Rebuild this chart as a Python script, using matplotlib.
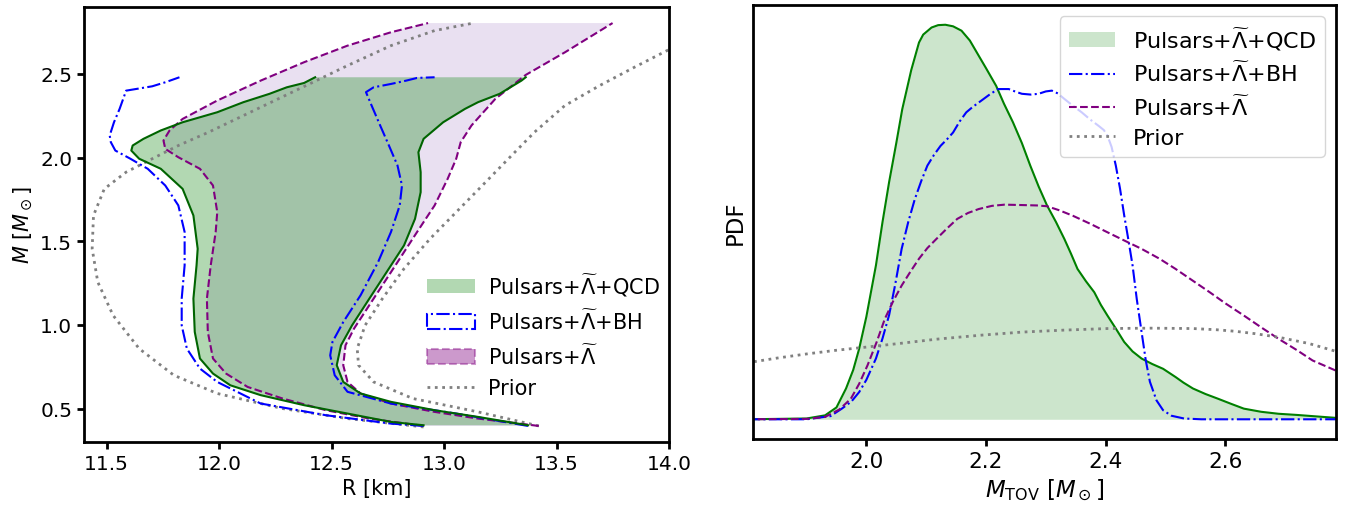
import numpy as np
import matplotlib
matplotlib.use('Agg')
import matplotlib.pyplot as plt
from matplotlib.patches import Patch
from matplotlib.lines import Line2D

# ---- left panel: M-R bands (R in km, M in Msun) ----
qcd_left_R = [12.909, 12.764, 12.571, 12.378, 12.185, 12.050, 11.973, 11.915, 11.892, 11.886, 11.900, 11.905,
              11.886, 11.838, 11.741, 11.645, 11.610, 11.616, 11.664, 11.741, 11.838, 11.992, 12.108, 12.224,
              12.301, 12.378, 12.427]
qcd_left_M = [0.400, 0.420, 0.470, 0.520, 0.580, 0.639, 0.709, 0.799, 0.958, 1.157, 1.356, 1.455,
              1.654, 1.813, 1.933, 1.993, 2.042, 2.072, 2.112, 2.162, 2.211, 2.271, 2.331, 2.381,
              2.420, 2.446, 2.480]
qcd_right_R = [13.373, 13.151, 12.958, 12.764, 12.629, 12.552, 12.523, 12.542, 12.591, 12.668, 12.745, 12.822,
               12.871, 12.896, 12.896, 12.886, 12.909, 12.996, 13.093, 13.151, 13.247, 13.344, 13.363]
qcd_right_M = [0.400, 0.450, 0.490, 0.540, 0.590, 0.659, 0.759, 0.878, 0.997, 1.157, 1.316, 1.475,
               1.634, 1.793, 1.913, 2.032, 2.112, 2.211, 2.291, 2.331, 2.381, 2.460, 2.480]

lam_left_R = [12.909, 12.668, 12.475, 12.282, 12.127, 12.031, 11.973, 11.950, 11.946, 11.963, 11.985, 11.992,
              11.973, 11.915, 11.819, 11.761, 11.753, 11.780, 11.838, 11.992, 12.185, 12.378, 12.571,
              12.764, 12.929]
lam_left_M = [0.396, 0.440, 0.490, 0.560, 0.629, 0.709, 0.799, 0.958, 1.157, 1.356, 1.555, 1.674,
              1.833, 1.933, 2.002, 2.052, 2.102, 2.162, 2.231, 2.341, 2.460, 2.570, 2.669,
              2.749, 2.804]
lam_right_R = [13.421, 13.151, 12.958, 12.764, 12.629, 12.571, 12.552, 12.562, 12.600, 12.687, 12.784, 12.880,
               12.958, 13.016, 13.054, 13.074, 13.122, 13.228, 13.363, 13.537, 13.749]
lam_right_M = [0.396, 0.440, 0.480, 0.530, 0.590, 0.659, 0.759, 0.878, 0.978, 1.157, 1.356, 1.555,
               1.714, 1.873, 1.993, 2.092, 2.192, 2.351, 2.494, 2.629, 2.804]

bh_left_R = [12.909, 12.764, 12.475, 12.185, 11.992, 11.915, 11.857, 11.834, 11.834, 11.847, 11.847, 11.819,
             11.761, 11.683, 11.606, 11.539, 11.519, 11.514, 11.533, 11.558, 11.587, 11.703, 11.761, 11.824]
bh_left_M = [0.396, 0.410, 0.460, 0.530, 0.659, 0.739, 0.858, 0.997, 1.157, 1.356, 1.555, 1.714,
             1.833, 1.933, 1.993, 2.042, 2.092, 2.132, 2.211, 2.291, 2.400, 2.426, 2.450, 2.480]
bh_right_R = [13.373, 13.054, 12.764, 12.571, 12.514, 12.494, 12.504, 12.552, 12.629, 12.707, 12.764, 12.803,
              12.813, 12.793, 12.755, 12.716, 12.678, 12.653, 12.687, 12.764, 12.832, 12.880, 12.958]
bh_right_M = [0.396, 0.470, 0.530, 0.600, 0.699, 0.818, 0.898, 1.017, 1.177, 1.376, 1.555, 1.714,
              1.833, 1.953, 2.072, 2.192, 2.311, 2.391, 2.420, 2.440, 2.460, 2.476, 2.480]

prior_left_R = [12.909, 12.571, 12.282, 11.992, 11.799, 11.645, 11.529, 11.461, 11.436, 11.442, 11.490, 11.587,
                11.703, 11.819, 11.954, 12.108, 12.263, 12.417, 12.571, 12.764, 12.958, 13.131]
prior_left_M = [0.390, 0.440, 0.500, 0.590, 0.699, 0.858, 1.057, 1.256, 1.455, 1.654, 1.813, 1.913,
                1.993, 2.072, 2.152, 2.251, 2.351, 2.450, 2.550, 2.669, 2.759, 2.804]
prior_right_R = [13.421, 13.151, 12.861, 12.687, 12.620, 12.614, 12.649, 12.726, 12.822, 12.938, 13.054, 13.170,
                 13.286, 13.402, 13.537, 13.691, 13.846, 14.050]
prior_right_M = [0.396, 0.480, 0.560, 0.659, 0.759, 0.858, 0.997, 1.157, 1.336, 1.515, 1.674, 1.833,
                 1.993, 2.152, 2.311, 2.430, 2.540, 2.680]

# ---- right panel: M_TOV PDFs (arbitrary units, QCD peak = 1) ----
qcd_mtov = [1.80, 1.90, 1.931, 1.95, 1.966, 1.978, 1.988, 2.0, 2.016, 2.027, 2.038, 2.05, 2.06, 2.075, 2.088,
            2.095, 2.109, 2.12, 2.132, 2.145, 2.159, 2.173, 2.188, 2.2, 2.217, 2.23, 2.245, 2.26, 2.274,
            2.288, 2.302, 2.317, 2.331, 2.342, 2.353, 2.367, 2.381, 2.392, 2.403, 2.417, 2.431, 2.445,
            2.460, 2.478, 2.496, 2.506, 2.517, 2.53, 2.546, 2.567, 2.588, 2.61, 2.631, 2.66, 2.689,
            2.72, 2.746, 2.79]
qcd_pdf = [0.0, 0.002, 0.010, 0.030, 0.078, 0.125, 0.179, 0.26, 0.39, 0.50, 0.601, 0.70, 0.786, 0.885, 0.955,
           0.975, 0.993, 0.999, 1.000, 0.996, 0.985, 0.96, 0.921, 0.89, 0.845, 0.80, 0.753, 0.70, 0.643,
           0.59, 0.542, 0.50, 0.457, 0.42, 0.381, 0.35, 0.322, 0.29, 0.263, 0.23, 0.196, 0.172,
           0.154, 0.14, 0.128, 0.118, 0.107, 0.093, 0.078, 0.064, 0.052, 0.039, 0.027, 0.019, 0.014,
           0.011, 0.008, 0.003]
bh_mtov = [1.80, 1.90, 1.94, 1.959, 1.975, 1.988, 2.0, 2.016, 2.027, 2.038, 2.048, 2.059, 2.07, 2.081, 2.092,
           2.102, 2.113, 2.124, 2.135, 2.145, 2.156, 2.167, 2.178, 2.188, 2.205, 2.220, 2.238, 2.25, 2.260,
           2.275, 2.288, 2.300, 2.310, 2.320, 2.331, 2.345, 2.360, 2.374, 2.388, 2.397, 2.403, 2.410,
           2.417, 2.424, 2.431, 2.438, 2.445, 2.452, 2.460, 2.467, 2.474, 2.485, 2.496, 2.51, 2.531,
           2.56, 2.79]
bh_pdf = [0.0, 0.0, 0.008, 0.027, 0.045, 0.069, 0.10, 0.154, 0.205, 0.264, 0.34, 0.432, 0.50, 0.558, 0.605,
          0.643, 0.67, 0.693, 0.71, 0.727, 0.755, 0.778, 0.792, 0.803, 0.822, 0.837, 0.837, 0.83, 0.825,
          0.823, 0.825, 0.831, 0.833, 0.826, 0.812, 0.795, 0.778, 0.76, 0.744, 0.733, 0.719, 0.69,
          0.643, 0.585, 0.517, 0.455, 0.390, 0.305, 0.222, 0.15, 0.095, 0.048, 0.023, 0.009, 0.002,
          0.0, 0.0]
lam_mtov = [1.80, 1.90, 1.931, 1.955, 1.974, 1.988, 2.002, 2.017, 2.031, 2.045, 2.059, 2.074, 2.088, 2.102,
            2.117, 2.135, 2.152, 2.17, 2.188, 2.21, 2.231, 2.26, 2.285, 2.302, 2.322, 2.345, 2.375, 2.403,
            2.43, 2.460, 2.49, 2.517, 2.545, 2.574, 2.60, 2.631, 2.66, 2.689, 2.72, 2.746, 2.79]
lam_pdf = [0.0, 0.001, 0.006, 0.025, 0.052, 0.09, 0.137, 0.195, 0.255, 0.30, 0.339, 0.375, 0.407, 0.434,
           0.457, 0.484, 0.508, 0.523, 0.533, 0.541, 0.544, 0.543, 0.542, 0.540, 0.530, 0.516, 0.495, 0.474,
           0.454, 0.432, 0.407, 0.381, 0.352, 0.322, 0.294, 0.263, 0.233, 0.204, 0.175, 0.149, 0.120]
prior_mtov = [1.80, 1.85, 1.902, 1.95, 2.0, 2.06, 2.117, 2.19, 2.26, 2.33, 2.403, 2.474, 2.546, 2.585,
              2.617, 2.65, 2.689, 2.74, 2.79]
prior_pdf = [0.143, 0.155, 0.166, 0.175, 0.183, 0.193, 0.203, 0.213, 0.221, 0.226, 0.230, 0.231, 0.230, 0.227,
             0.223, 0.217, 0.208, 0.192, 0.170]

lab_qcd = r'Pulsars+$\widetilde{\Lambda}$+QCD'
lab_bh = r'Pulsars+$\widetilde{\Lambda}$+BH'
lab_lam = r'Pulsars+$\widetilde{\Lambda}$'

plt.rcParams['axes.linewidth'] = 2.0
plt.rcParams['xtick.major.width'] = 2.0
plt.rcParams['ytick.major.width'] = 2.0
plt.rcParams['xtick.major.size'] = 5
plt.rcParams['ytick.major.size'] = 5

fig = plt.figure(figsize=(13.47, 5.06), dpi=100)
ax1 = fig.add_axes([0.0624, 0.1245, 0.4343, 0.8597])
ax2 = fig.add_axes([0.5588, 0.1304, 0.4330, 0.8577])

# left panel
ax1.fill(np.concatenate([lam_left_R, lam_right_R[::-1]]), np.concatenate([lam_left_M, lam_right_M[::-1]]),
         color='tab:purple', alpha=0.2, lw=0)
ax1.fill(np.concatenate([qcd_left_R, qcd_right_R[::-1]]), np.concatenate([qcd_left_M, qcd_right_M[::-1]]),
         color='green', alpha=0.3, lw=0)
ax1.plot(prior_left_R, prior_left_M, ':', color='gray', lw=2)
ax1.plot(prior_right_R, prior_right_M, ':', color='gray', lw=2)
ax1.plot(lam_left_R, lam_left_M, '--', color='purple', lw=1.5)
ax1.plot(lam_right_R, lam_right_M, '--', color='purple', lw=1.5)
ax1.plot(bh_left_R, bh_left_M, '-.', color='blue', lw=1.5)
ax1.plot(bh_right_R, bh_right_M, '-.', color='blue', lw=1.5)
ax1.plot(qcd_left_R, qcd_left_M, '-', color='darkgreen', lw=1.5)
ax1.plot(qcd_right_R, qcd_right_M, '-', color='darkgreen', lw=1.5)

ax1.set_xlim(11.4, 14.0)
ax1.set_ylim(0.3, 2.9)
ax1.set_xticks([11.5, 12.0, 12.5, 13.0, 13.5, 14.0])
ax1.set_yticks([0.5, 1.0, 1.5, 2.0, 2.5])
ax1.tick_params(labelsize=14.5)
ax1.set_xlabel('R [km]', fontsize=15)
ax1.set_ylabel(r'$M\ [M_\odot]$', fontsize=15)

handles1 = [Patch(facecolor='green', alpha=0.3, lw=0),
            Patch(facecolor='white', edgecolor='blue', linestyle='-.', lw=1.5),
            Patch(facecolor='purple', edgecolor='purple', alpha=0.4, linestyle='--', lw=1.5),
            Line2D([], [], ls=':', color='gray', lw=2)]
ax1.legend(handles1, [lab_qcd, lab_bh, lab_lam, 'Prior'], loc='lower right', frameon=False,
           fontsize=15, handlelength=2.3, handletextpad=0.6, labelspacing=0.5,
           bbox_to_anchor=(1.016, 0.058))

# right panel
ax2.fill_between(qcd_mtov, 0, qcd_pdf, color='green', alpha=0.2, lw=0, label=lab_qcd)
ax2.plot(qcd_mtov, qcd_pdf, '-', color='green', lw=1.5)
ax2.plot(bh_mtov, bh_pdf, '-.', color='blue', lw=1.5, label=lab_bh)
ax2.plot(lam_mtov, lam_pdf, '--', color='purple', lw=1.5, label=lab_lam)
ax2.plot(prior_mtov, prior_pdf, ':', color='gray', lw=2, label='Prior')

ax2.set_xlim(1.81, 2.785)
ax2.set_xticks([2.0, 2.2, 2.4, 2.6])
ax2.set_yticks([])
ax2.tick_params(labelsize=15.5)
ax2.set_xlabel(r'$M_{\rm TOV}\ [M_\odot]$', fontsize=16.5)
ax2.set_ylabel('PDF', fontsize=16.5)
ax2.legend(loc='upper right', fontsize=16, handlelength=2.1, labelspacing=0.4)

fig.savefig('out.png', dpi=100)
